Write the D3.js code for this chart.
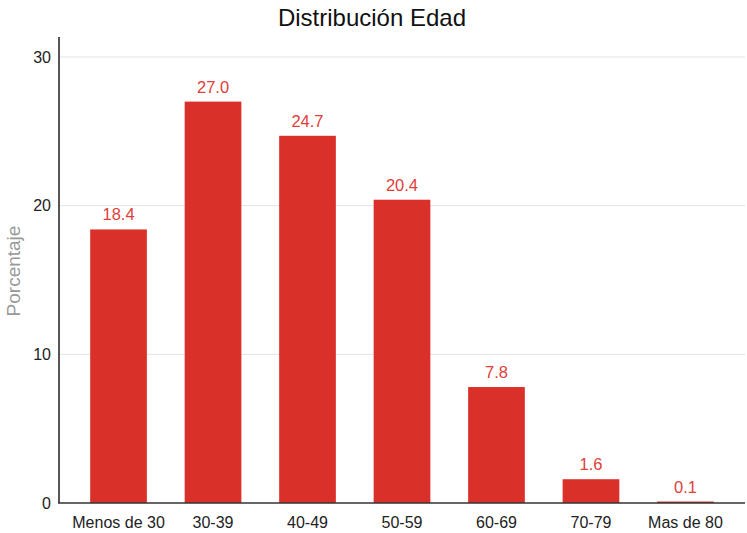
<!DOCTYPE html>
<html><head><meta charset="utf-8">
<script src="https://cdn.jsdelivr.net/npm/d3@7"></script>
<style>body{margin:0;background:#fff}svg{display:block}</style>
</head><body>
<script>
const categories = ["Menos de 30","30-39","40-49","50-59","60-69","70-79","Mas de 80"];
const values = [18.4, 27.0, 24.7, 20.4, 7.8, 1.6, 0.1];
const yTicks = [0, 10, 20, 30];
const title = "Distribución Edad";
const yLabel = "Porcentaje";

const W = 747, H = 533;
const svg = d3.select("body").append("svg").attr("width", W).attr("height", H);
const font = "'Liberation Sans', Arial, sans-serif";

const x = d3.scaleBand().domain(categories).range([59, 745]).paddingInner(0.4).paddingOuter(0.33);
const y = d3.scaleLinear().domain([0, 30]).range([503, 57]);

svg.append("g").selectAll("line").data(yTicks.filter(d => d > 0)).join("line")
  .attr("x1", 59).attr("x2", 745).attr("y1", d => y(d)).attr("y2", d => y(d))
  .attr("stroke", "#e3e3e3").attr("stroke-width", 1);

svg.append("g").selectAll("rect").data(values).join("rect")
  .attr("x", (d, i) => x(categories[i])).attr("width", x.bandwidth())
  .attr("y", d => y(d)).attr("height", d => Math.max(1, y(0) - y(d)))
  .attr("fill", "#da302a");

svg.append("g").selectAll("text").data(values).join("text")
  .attr("x", (d, i) => x(categories[i]) + x.bandwidth() / 2)
  .attr("y", d => y(d) - 9)
  .attr("text-anchor", "middle").attr("font-family", font).attr("font-size", 16.5)
  .attr("fill", "#e0403a").text(d => d.toFixed(1));

svg.append("line").attr("x1", 59).attr("x2", 59).attr("y1", 37).attr("y2", 503)
  .attr("stroke", "#555").attr("stroke-width", 2);
svg.append("line").attr("x1", 58).attr("x2", 745).attr("y1", 503).attr("y2", 503)
  .attr("stroke", "#333").attr("stroke-width", 1.5);

svg.append("g").selectAll("text").data(yTicks).join("text")
  .attr("x", 51).attr("y", d => y(d)).attr("dy", "0.35em")
  .attr("text-anchor", "end").attr("font-family", font).attr("font-size", 16)
  .attr("fill", "#222").text(d => d);

svg.append("g").selectAll("text").data(categories).join("text")
  .attr("x", d => x(d) + x.bandwidth() / 2).attr("y", 528)
  .attr("text-anchor", "middle").attr("font-family", font).attr("font-size", 16)
  .attr("fill", "#222").text(d => d);

svg.append("text").attr("x", 372).attr("y", 26).attr("text-anchor", "middle")
  .attr("font-family", font).attr("font-size", 24).attr("fill", "#111").text(title);

svg.append("text").attr("transform", "translate(20,271) rotate(-90)")
  .attr("text-anchor", "middle").attr("font-family", font).attr("font-size", 19)
  .attr("fill", "#999").text(yLabel);
</script>
</body></html>
